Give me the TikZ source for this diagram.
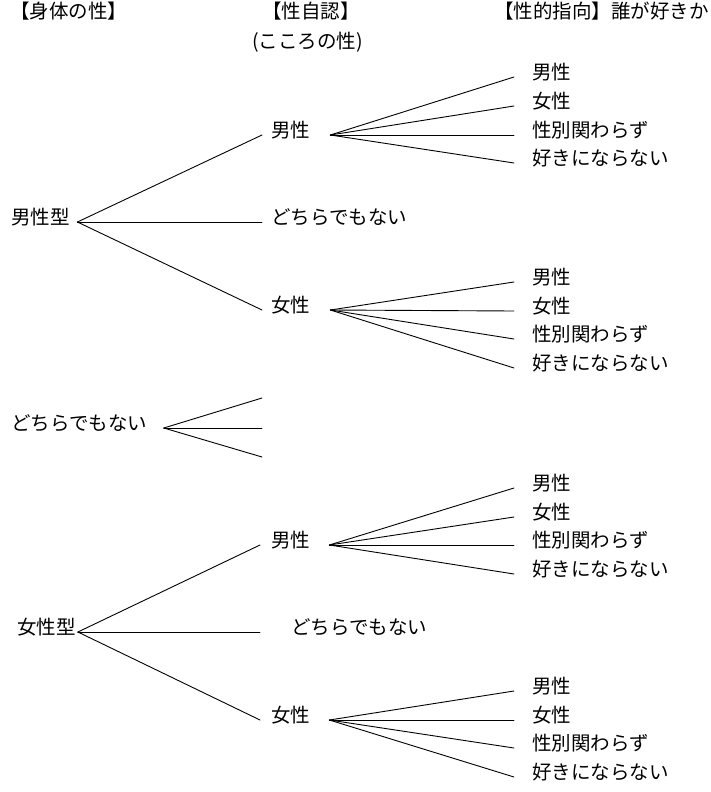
\documentclass[tikz,border=0pt]{standalone}
\usepackage{fontspec}
\setmainfont{Noto Sans CJK JP}
\begin{document}
\begin{tikzpicture}[x=1pt,y=-1pt,
  lbl/.style={anchor=west,inner sep=0pt,font=\fontsize{19.5}{20}\selectfont,text height=0.74em,text depth=0.26em},
  br/.style={line width=0.9pt,line cap=round}]
\useasboundingbox (0,0) rectangle (711,792);
% headers
\node[lbl] (h1) at (10,16) {【身体の性】};
\node[lbl] (h2) at (262,16) {【性自認】};
\node[lbl] (h2b) at (252,46) {(こころの性)};
\node[lbl] (h3) at (494,16) {【性的指向】誰が好きか};
% ---------- top group ----------
\node[lbl] (M) at (11,222) {男性型};
\node[lbl] (MM) at (271,135) {男性};
\node[lbl] (MN) at (271,222) {どちらでもない};
\node[lbl] (MF) at (271,310) {女性};
\node[lbl] (MM1) at (532,77) {男性};
\node[lbl] (MM2) at (532,106) {女性};
\node[lbl] (MM3) at (532,135) {性別関わらず};
\node[lbl] (MM4) at (532,163) {好きにならない};
\node[lbl] (MF1) at (532,282) {男性};
\node[lbl] (MF2) at (532,311) {女性};
\node[lbl] (MF3) at (532,339) {性別関わらず};
\node[lbl] (MF4) at (532,368) {好きにならない};
\coordinate (Ma) at ([xshift=7.5pt]M.east);
\coordinate (MMa) at ([xshift=20pt]MM.east);
\coordinate (MFa) at ([xshift=20pt]MF.east);
\foreach \t in {MM,MN,MF} \draw[br] (Ma) -- ([xshift=-9pt]\t.west);
\foreach \t in {MM1,MM2,MM3,MM4} \draw[br] (MMa) -- ([xshift=-18pt]\t.west);
\foreach \t in {MF1,MF2,MF3,MF4} \draw[br] (MFa) -- ([xshift=-18pt]\t.west);
% ---------- middle ----------
\node[lbl] (N) at (11,428) {どちらでもない};
\coordinate (Na) at ([xshift=16.5pt]N.east);
\coordinate (N1) at (262,398);
\coordinate (N2) at (262,428);
\coordinate (N3) at (262,457);
\foreach \t in {N1,N2,N3} \draw[br] (Na) -- (\t);
% ---------- bottom group ----------
\node[lbl] (F) at (17,632) {女性型};
\node[lbl] (FM) at (271,545) {男性};
\node[lbl] (FN) at (291,632) {どちらでもない};
\node[lbl] (FF) at (271,720) {女性};
\node[lbl] (FM1) at (532,488) {男性};
\node[lbl] (FM2) at (532,517) {女性};
\node[lbl] (FM3) at (532,545) {性別関わらず};
\node[lbl] (FM4) at (532,574) {好きにならない};
\node[lbl] (FF1) at (532,691) {男性};
\node[lbl] (FF2) at (532,720) {女性};
\node[lbl] (FF3) at (532,748) {性別関わらず};
\node[lbl] (FF4) at (532,777) {好きにならない};
\coordinate (Fa) at ([xshift=2pt]F.east);
\coordinate (FMa) at ([xshift=19pt]FM.east);
\coordinate (FFa) at ([xshift=19pt]FF.east);
\draw[br] (Fa) -- ([xshift=-11pt]FM.west);
\draw[br] (Fa) -- ([xshift=-31pt]FN.west);
\draw[br] (Fa) -- ([xshift=-11pt]FF.west);
\foreach \t in {FM1,FM2,FM3,FM4} \draw[br] (FMa) -- ([xshift=-18pt]\t.west);
\foreach \t in {FF1,FF2,FF3,FF4} \draw[br] (FFa) -- ([xshift=-18pt]\t.west);
\end{tikzpicture}
\end{document}
